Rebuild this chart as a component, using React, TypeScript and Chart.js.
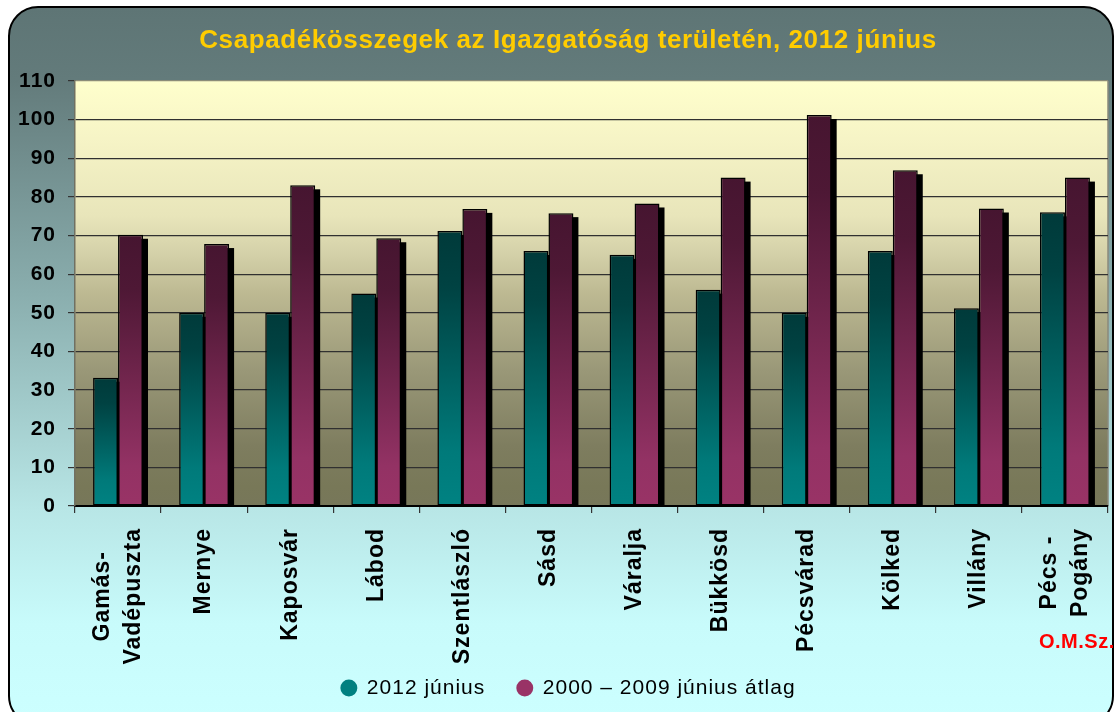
import React, { useEffect, useRef } from 'react';
import { Chart, registerables } from 'chart.js';

Chart.register(...registerables);

// ---------- data ----------
const categories: string[][] = [
  ['Gamás-', 'Vadépuszta'],
  ['Mernye'],
  ['Kaposvár'],
  ['Lábod'],
  ['Szentlászló'],
  ['Sásd'],
  ['Váralja'],
  ['Bükkösd'],
  ['Pécsvárad'],
  ['Kölked'],
  ['Villány'],
  ['Pécs -', 'Pogány'],
];
const june2012 = [33.2, 50, 50, 55, 71.2, 66, 65, 56, 50, 66, 51.2, 76];
const avg2000to2009 = [70.2, 67.8, 83, 69.3, 76.9, 75.8, 78.3, 85, 101.2, 86.9, 77, 85];
const seriesNames = ['2012 június', '2000 – 2009 június átlag'];
const yMin = 0;
const yMax = 110;
const yStep = 10;
const titleText = 'Csapadékösszegek az Igazgatóság területén, 2012 június';
const sourceText = 'O.M.Sz.';

// ---------- styles ----------
const FONT = '"Liberation Sans", Arial, Helvetica, sans-serif';
const seriesColors = ['#008080', '#993366'];
const seriesStops: [number, string][][] = [
  [[0, '#003a3a'], [0.2, '#004242'], [0.8, '#007a7a'], [1, '#008282']],
  [[0, '#461530'], [0.2, '#4e1835'], [0.85, '#933264'], [1, '#993366']],
];
const plotStops: [number, string][] = [
  [0, '#ffffcc'],
  [0.136, '#f6f4c6'],
  [0.318, '#e8e5ba'],
  [0.41, '#d3d0a8'],
  [0.5, '#bdb992'],
  [0.68, '#9a9878'],
  [0.86, '#7e7d5f'],
  [0.955, '#787858'],
  [1, '#77775a'],
];

const spacingPlugin = {
  id: 'spacing',
  beforeUpdate(chart: any) { chart.ctx.letterSpacing = '1px'; },
  beforeLayout(chart: any) { chart.ctx.letterSpacing = '1px'; },
  afterLayout(chart: any) {
    // centre the legend row under the whole frame, not under the padded box
    if (chart.legend) {
      chart.legend.left += 9.5;
      chart.legend.right += 9.5;
    }
  },
  beforeDraw(chart: any) { chart.ctx.letterSpacing = '1px'; },
};

const plotBgPlugin = {
  id: 'plotBg',
  beforeDraw(chart: any) {
    const { ctx, chartArea: a } = chart;
    if (!a) return;
    const g = ctx.createLinearGradient(0, a.top, 0, a.bottom);
    plotStops.forEach(([o, c]) => g.addColorStop(o, c));
    ctx.save();
    ctx.fillStyle = g;
    ctx.fillRect(a.left, a.top, a.right - a.left, a.bottom - a.top);
    ctx.strokeStyle = '#8a8a7c';
    ctx.lineWidth = 1.5;
    ctx.beginPath();
    ctx.moveTo(a.right, a.top);
    ctx.lineTo(a.right, a.bottom);
    ctx.stroke();
    ctx.restore();
  },
};

const shadowPlugin = {
  id: 'barShadow',
  beforeDatasetsDraw(chart: any) {
    const { ctx } = chart;
    ctx.save();
    ctx.fillStyle = '#000';
    chart.data.datasets.forEach((_: any, i: number) => {
      const meta = chart.getDatasetMeta(i);
      meta.data.forEach((bar: any) => {
        const { x, y, base, width } = bar.getProps(['x', 'y', 'base', 'width'], true);
        const h = base - y - 4;
        if (h > 0) ctx.fillRect(x - width / 2 + 5, y + 4, width, h);
      });
    });
    ctx.restore();
  },
};

const textPlugin = {
  id: 'texts',
  afterDraw(chart: any) {
    const { ctx, chartArea } = chart;
    const xs = chart.scales.x;
    ctx.save();
    // category labels, rotated
    ctx.font = `bold 23px ${FONT}`;
    ctx.letterSpacing = '1px';
    ctx.fillStyle = '#000';
    ctx.textAlign = 'center';
    ctx.textBaseline = 'middle';
    categories.forEach((lines, i) => {
      const px = xs.getPixelForTick(i);
      const top = chartArea.bottom + 22;
      const W = Math.max(...lines.map((l) => ctx.measureText(l).width));
      ctx.save();
      ctx.translate(px, top);
      ctx.rotate(-Math.PI / 2);
      lines.forEach((l, k) => {
        ctx.fillText(l, -W / 2, (k - (lines.length - 1) / 2) * 31);
      });
      ctx.restore();
    });
    // title
    ctx.font = `bold 26px ${FONT}`;
    ctx.letterSpacing = '0.6px';
    ctx.fillStyle = '#ffcc00';
    ctx.textAlign = 'center';
    ctx.textBaseline = 'alphabetic';
    ctx.fillText(titleText, 568, 48);
    // source
    ctx.font = `bold 20px ${FONT}`;
    ctx.letterSpacing = '0.5px';
    ctx.fillStyle = '#ff0000';
    ctx.textAlign = 'left';
    ctx.fillText(sourceText, 1039, 648);
    ctx.restore();
  },
};

export default function App() {
  const canvasRef = useRef<HTMLCanvasElement | null>(null);

  useEffect(() => {
    if (!canvasRef.current) return;
    Chart.defaults.font.family = FONT;

    const makeBg = (dsIndex: number) => (c: any) => {
      const chart = c.chart;
      if (c.type !== 'data' || !chart.chartArea || !chart.scales.y) return seriesColors[dsIndex];
      const yTop = chart.scales.y.getPixelForValue(c.raw);
      const yBase = chart.scales.y.getPixelForValue(0);
      if (!isFinite(yTop) || !isFinite(yBase) || yBase - yTop < 1) return seriesColors[dsIndex];
      const g = chart.ctx.createLinearGradient(0, yTop, 0, yBase);
      seriesStops[dsIndex].forEach(([o, col]) => g.addColorStop(o, col));
      return g;
    };

    const chart = new Chart(canvasRef.current, {
      type: 'bar',
      data: {
        labels: categories,
        datasets: [
          {
            label: seriesNames[0],
            data: june2012,
            backgroundColor: makeBg(0),
            borderColor: '#000',
            borderWidth: 1.5,
            borderSkipped: false,
            categoryPercentage: 0.58,
            barPercentage: 1,
          },
          {
            label: seriesNames[1],
            data: avg2000to2009,
            backgroundColor: makeBg(1),
            borderColor: '#000',
            borderWidth: 1.5,
            borderSkipped: false,
            categoryPercentage: 0.58,
            barPercentage: 1,
          },
        ],
      },
      options: {
        responsive: false,
        animation: false,
        devicePixelRatio: 1,
        layout: { padding: { left: 10, right: 8, top: 81, bottom: 3.5 } },
        plugins: {
          tooltip: { enabled: false },
          title: { display: false },
          legend: {
            position: 'bottom',
            labels: {
              usePointStyle: true,
              boxWidth: 15,
              boxHeight: 12,
              padding: 32,
              color: '#111',
              font: { size: 21, family: FONT },
              generateLabels: () =>
                seriesNames.map((t, i) => ({
                  text: t,
                  fillStyle: seriesColors[i],
                  strokeStyle: seriesColors[i],
                  lineWidth: 0,
                  pointStyle: 'circle',
                  hidden: false,
                  datasetIndex: i,
                })),
            },
          },
        },
        scales: {
          x: {
            ticks: { display: false },
            grid: {
              offset: true,
              drawOnChartArea: false,
              drawTicks: true,
              tickLength: 7,
              color: '#333',
              lineWidth: 1.2,
            },
            border: { color: '#000', width: 2 },
            afterFit: (s: any) => { s.height = 139.5; },
          },
          y: {
            min: yMin,
            max: yMax,
            ticks: {
              stepSize: yStep,
              color: '#000',
              padding: 12,
              font: { size: 21, weight: 'bold', family: FONT },
            },
            grid: {
              color: (c: any) => (c.tick && c.tick.value === yMax ? '#8c8c78' : '#303030'),
              lineWidth: 1.2,
              tickLength: 7,
              tickColor: '#333',
              drawTicks: true,
            },
            border: { color: '#707062', width: 1.5 },
            afterFit: (s: any) => { s.width = 65; },
          },
        },
      },
      plugins: [spacingPlugin, plotBgPlugin, shadowPlugin, textPlugin],
    } as any);

    return () => chart.destroy();
  }, []);

  return (
    <div style={{ position: 'fixed', left: 0, top: 0, width: 1116, height: 712, overflow: 'hidden' }}>
      <div
        style={{
          position: 'absolute',
          left: 8,
          top: 6,
          width: 1106,
          height: 720,
          boxSizing: 'border-box',
          border: '2px solid #000',
          borderRadius: 30,
          background:
            'linear-gradient(to bottom, #5e7575 0%, #637b7b 10%, #8aaeae 40%, #b8e6e6 70%, #c8fbfb 86%, #ccffff 100%)',
        }}
      />
      <canvas
        ref={canvasRef}
        width={1116}
        height={712}
        style={{ position: 'absolute', left: 0, top: 0, width: 1116, height: 712 }}
      />
    </div>
  );
}
